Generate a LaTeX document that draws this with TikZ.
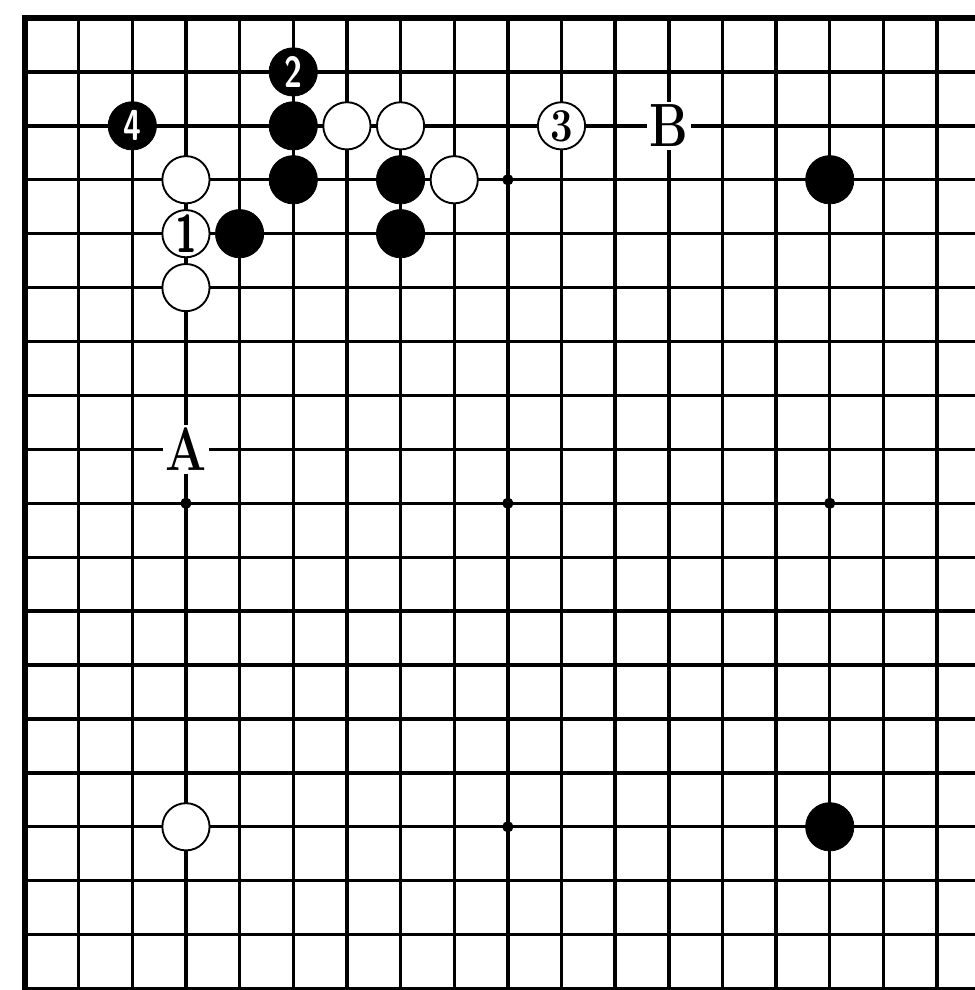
\documentclass[tikz,border=0pt]{standalone}
\usepackage{tikz}
\newcommand{\stonenum}[1]{\scalebox{0.75}[1]{#1}}
\newcommand{\pointlab}[1]{\scalebox{0.95}[1.2]{#1}}
\tikzset{
  gridline/.style={line width=1.8pt, black},
  edgeline/.style={line width=3.2pt, black, line join=miter},
  hoshi/.style={circle, fill=black, inner sep=0pt, minimum size=0.21cm},
  bstone/.style={circle, draw=black, fill=black, inner sep=0pt,
    minimum size=0.9cm, text=white, font=\fontsize{23}{23}\selectfont\sffamily\bfseries},
  wstone/.style={circle, draw=black, fill=white, line width=1pt, inner sep=0pt,
    minimum size=0.88cm, font=\fontsize{25}{25}\selectfont\bfseries},
  ptlabel/.style={fill=white, inner sep=1.5pt, font=\fontsize{27}{27}\selectfont\bfseries},
}

\begin{document}
\begin{tikzpicture}[x=1cm, y=1.005cm]
  \useasboundingbox (-0.466,-18.027) rectangle (17.689,0.334);

  % Board lines
  \foreach \c in {1,...,17}
    \draw[gridline] (\c,0) -- (\c,-18.3);
  \foreach \r in {1,...,18}
    \draw[gridline] (0,-\r) -- (17.9,-\r);
  \draw[edgeline] (17.9,0) -- (0,0) -- (0,-18.3);

  % Star points
  \foreach \p in {(3,-3),(9,-3),(15,-3),(3,-9),(9,-9),(15,-9),(3,-15),(9,-15),(15,-15)}
    \node[hoshi] at \p {};

  % Black stones
  \node[bstone] (b2) at (5,-1) {\stonenum{2}};
  \node[bstone] (b4) at (2,-2) {\stonenum{4}};
  \node[bstone] (bF3) at (5,-2) {};
  \node[bstone] (bF4) at (5,-3) {};
  \node[bstone] (bH4) at (7,-3) {};
  \node[bstone] (bH5) at (7,-4) {};
  \node[bstone] (bE5) at (4,-4) {};
  \node[bstone] (bQ4) at (15,-3) {};
  \node[bstone] (bQ16) at (15,-15) {};

  % White stones
  \node[wstone, font=\fontsize{28}{28}\selectfont\sffamily\bfseries] (w1) at (3,-4) {\stonenum{1}};
  \node[wstone] (w3) at (10,-2) {\scalebox{0.85}[1]{3}};
  \node[wstone] (wG3) at (6,-2) {};
  \node[wstone] (wH3) at (7,-2) {};
  \node[wstone] (wD4) at (3,-3) {};
  \node[wstone] (wJ4) at (8,-3) {};
  \node[wstone] (wD6) at (3,-5) {};
  \node[wstone] (wD16) at (3,-15) {};

  % Point labels
  \node[ptlabel] (labA) at (3,-8) {\pointlab{A}};
  \node[ptlabel] (labB) at (12,-2) {\pointlab{B}};
\end{tikzpicture}
\end{document}
